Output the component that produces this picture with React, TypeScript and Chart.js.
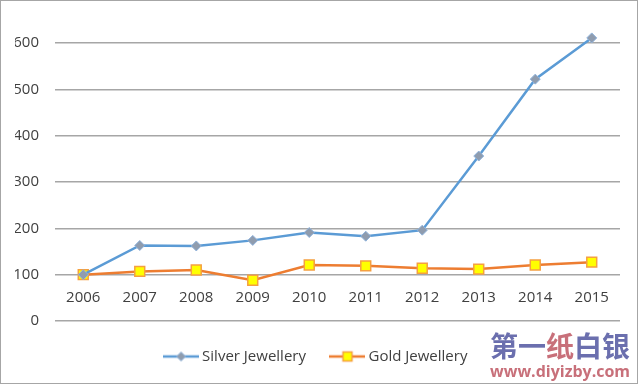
import React, { useEffect, useRef } from "react";
import { Chart, registerables } from "chart.js";

Chart.register(...registerables);

const years = ["2006", "2007", "2008", "2009", "2010", "2011", "2012", "2013", "2014", "2015"];
const silverJewellery = [100, 163, 162, 174, 191, 183, 196, 356, 522, 611];
const goldJewellery = [100, 107, 110, 88, 121, 119, 114, 112, 121, 127];
const seriesNames = ["Silver Jewellery", "Gold Jewellery"];

const FONT = "'Open Sans', 'DejaVu Sans', sans-serif";
const TEXT = "#404040";
const SILVER_LINE = "#5b9bd5";
const GOLD_LINE = "#ed7d31";

function makeLegendIcon(kind: "silver" | "gold"): HTMLCanvasElement {
  const c = document.createElement("canvas");
  c.width = 36;
  c.height = 14;
  const ctx = c.getContext("2d")!;
  ctx.lineWidth = 2.5;
  ctx.strokeStyle = kind === "silver" ? SILVER_LINE : GOLD_LINE;
  ctx.beginPath();
  ctx.moveTo(0, 7);
  ctx.lineTo(36, 7);
  ctx.stroke();
  if (kind === "silver") {
    ctx.beginPath();
    ctx.moveTo(18, 2.5);
    ctx.lineTo(22.5, 7);
    ctx.lineTo(18, 11.5);
    ctx.lineTo(13.5, 7);
    ctx.closePath();
    ctx.fillStyle = "#8f9cae";
    ctx.fill();
    ctx.lineWidth = 1;
    ctx.strokeStyle = "#8fb3dc";
    ctx.stroke();
  } else {
    ctx.fillStyle = "#ffff00";
    ctx.fillRect(13.5, 2.5, 9, 9);
    ctx.lineWidth = 1.5;
    ctx.strokeStyle = "#f5a040";
    ctx.strokeRect(13.5, 2.5, 9, 9);
  }
  return c;
}

export default function App() {
  const canvasRef = useRef<HTMLCanvasElement | null>(null);

  useEffect(() => {
    document.body.style.margin = "0";
    const canvas = canvasRef.current;
    if (!canvas) return;
    const icons = [makeLegendIcon("silver"), makeLegendIcon("gold")];
    const defaultGen = (Chart as any).defaults.plugins.legend.labels.generateLabels;

    const chart = new Chart(canvas, {
      type: "line",
      data: {
        labels: years,
        datasets: [
          {
            label: seriesNames[0],
            data: silverJewellery,
            borderColor: SILVER_LINE,
            borderWidth: 2.5,
            pointStyle: "rectRot",
            pointRadius: 5,
            pointBackgroundColor: "#8f9cae",
            pointBorderColor: "#8fb3dc",
            pointBorderWidth: 1,
            tension: 0,
            clip: false as any,
          },
          {
            label: seriesNames[1],
            data: goldJewellery,
            borderColor: GOLD_LINE,
            borderWidth: 2.5,
            pointStyle: "rect",
            pointRadius: 7,
            pointBackgroundColor: "#ffff00",
            pointBorderColor: "#f5a040",
            pointBorderWidth: 1.5,
            tension: 0,
            clip: false as any,
          },
        ],
      },
      options: {
        animation: false,
        responsive: false,
        layout: { padding: { left: 15, right: 20, top: 43, bottom: 11 } },
        scales: {
          x: {
            type: "category",
            offset: true,
            position: { y: 100 } as any,
            grid: { display: false, drawTicks: false },
            border: { display: false },
            ticks: {
              padding: 14,
              color: TEXT,
              font: { family: FONT, size: 15 },
              maxRotation: 0,
            },
          },
          y: {
            min: 0,
            max: 600,
            position: "left",
            afterFit: (scale: any) => {
              scale.width = 40;
            },
            ticks: {
              stepSize: 100,
              padding: 16,
              color: TEXT,
              font: { family: FONT, size: 15 },
            },
            grid: { color: "#a6a6a6", lineWidth: 1.5, drawTicks: false },
            border: { display: false },
          },
        },
        plugins: {
          legend: {
            position: "bottom",
            labels: {
              usePointStyle: true,
              pointStyleWidth: 27,
              boxHeight: 12,
              padding: 28,
              color: TEXT,
              font: { family: FONT, size: 15 },
              generateLabels: (ch: any) => {
                const items = defaultGen(ch);
                return items.map((it: any, i: number) => ({ ...it, pointStyle: icons[i] }));
              },
            },
          },
          tooltip: { enabled: false },
        },
      },
    });
    return () => chart.destroy();
  }, []);

  return (
    <div style={{ position: "relative", width: 640, height: 385, background: "#ffffff" }}>
      <canvas ref={canvasRef} width={640} height={385} style={{ display: "block" }} />
      <div
        style={{
          position: "absolute",
          left: 0,
          top: 0,
          width: 638,
          height: 384,
          boxSizing: "border-box",
          border: "1px solid #a6a6a6",
          pointerEvents: "none",
        }}
      />
      <div
        style={{
          position: "absolute",
          left: 490,
          top: 330,
          fontFamily: "'Noto Sans CJK SC', sans-serif",
          fontWeight: 700,
          fontSize: 28,
          lineHeight: "30px",
          whiteSpace: "nowrap",
          color: "#6b6fae",
        }}
      >
        第一<span style={{ color: "#c8707a" }}>纸</span>白银
      </div>
      <div
        style={{
          position: "absolute",
          left: 490,
          top: 361,
          fontFamily: "'Open Sans', sans-serif",
          fontWeight: 700,
          fontSize: 16,
          lineHeight: "20px",
          whiteSpace: "nowrap",
          color: "#c8707a",
        }}
      >
        www.diyizby.com
      </div>
    </div>
  );
}
